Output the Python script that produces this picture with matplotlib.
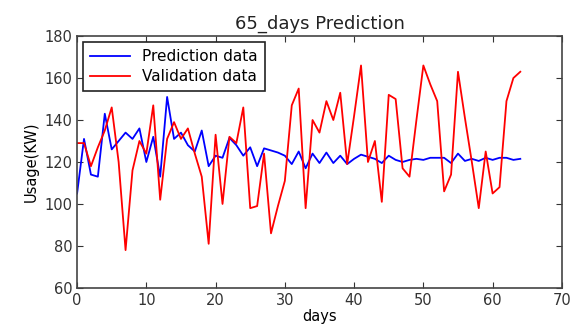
import numpy as np
import matplotlib
matplotlib.use('Agg')
import matplotlib.pyplot as plt

days = list(range(65))

prediction = [105, 131, 114, 113, 143, 126, 130, 134, 131, 136,
              120, 132, 113, 151, 131, 134, 128, 125, 135, 118,
              123, 122, 131.5, 128, 123, 127, 118, 126.5, 125.5, 124.5,
              123, 119, 125, 117, 124, 119.5, 124.5, 119.5, 123, 119,
              121.5, 123.5, 122.5, 121.5, 119.5, 123, 121, 120, 121, 121.5,
              121, 122, 122, 122, 119.5, 124, 120.5, 121.5, 120.5, 122,
              121, 122, 122, 121, 121.5]

validation = [129, 129, 118, 127, 135, 146, 120, 78, 116, 130,
              124, 147, 102, 131, 139, 131, 136, 124, 113, 81,
              133, 100, 132, 129, 146, 98, 99, 124, 86, 99,
              111, 147, 155, 98, 140, 134, 149, 140, 153, 119,
              142, 166, 120, 130, 101, 152, 150, 117, 113, 140,
              166, 157, 149, 106, 114, 163, 141, 120, 98, 125,
              105, 108, 149, 160, 163]

plt.rcParams['font.family'] = ['DejaVu Sans']
fig = plt.figure(figsize=(5.71, 3.34), dpi=100)
ax = fig.add_axes([0.135, 0.138, 0.849, 0.754])

ax.plot(days, prediction, color='b', lw=1.3, label='Prediction data')
ax.plot(days, validation, color='r', lw=1.3, label='Validation data')

ax.set_xlim(0, 70)
ax.set_ylim(60, 180)
ax.set_xticks(range(0, 71, 10))
ax.set_yticks(range(60, 181, 20))
ax.tick_params(direction='in', top=True, right=True, labelsize=10.5, length=4, colors='#333333')
for s in ax.spines.values():
    s.set_color('#444444')
    s.set_linewidth(1.2)

ax.set_title('65_days Prediction', fontsize=13, color='#222222', pad=5)
ax.set_xlabel('days', fontsize=10.5, labelpad=1)
ax.set_ylabel('Usage(KW)', fontsize=10.5, labelpad=4)

leg = ax.legend(loc='upper left', fontsize=11, fancybox=False, framealpha=1,
                edgecolor='#222222', handlelength=2.6, borderpad=0.45,
                labelspacing=0.35, borderaxespad=0.4)
leg.get_frame().set_linewidth(1.2)

fig.savefig('out.png', dpi=100)
